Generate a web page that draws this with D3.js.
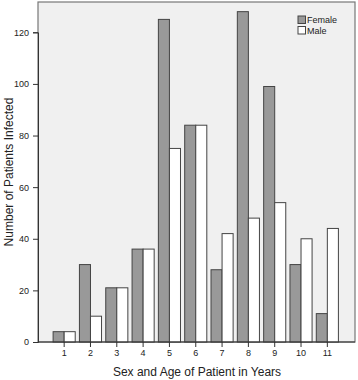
<!DOCTYPE html>
<html>
<head>
<meta charset="utf-8">
<script src="https://cdn.jsdelivr.net/npm/d3@7"></script>
<style>
  body { margin: 0; background: #fff; }
  svg { display: block; font-family: "Liberation Sans", Arial, sans-serif; }
</style>
</head>
<body>
<svg width="358" height="380"></svg>
<script>
(function (d3) {
    'use strict';

    // data
    const ages = ['1', '2', '3', '4', '5', '6', '7', '8', '9', '10', '11'];
    const female = [4, 30, 21, 36, 125, 84, 28, 128, 99, 30, 11];
    const male = [4, 10, 21, 36, 75, 84, 42, 48, 54, 40, 44];
    const sexes = ['Female', 'Male'];
    const yTicks = [0, 20, 40, 60, 80, 100, 120];

    const svg = d3.select('svg');
    const plot = { left: 38, top: 2, right: 355, bottom: 342 };

    const x = d3.scaleBand()
        .domain(ages)
        .range([51, 340.5])
        .paddingInner(0.16)
        .paddingOuter(0.08);
    const xSex = d3.scaleBand()
        .domain(sexes)
        .range([0, x.bandwidth()]);
    const y = d3.scaleLinear()
        .domain([0, 120])
        .range([plot.bottom, 32.3]);

    const fill = d3.scaleOrdinal().domain(sexes).range(['#999999', '#ffffff']);

    // plot background + frame
    svg.append('rect')
        .attr('x', plot.left).attr('y', plot.top)
        .attr('width', plot.right - plot.left)
        .attr('height', plot.bottom - plot.top)
        .attr('fill', '#f0f0f0')
        .attr('stroke', '#777')
        .attr('stroke-width', 1.2);

    const rows = ages.map((a, i) => ({ age: a, Female: female[i], Male: male[i] }));

    const groups = svg.append('g').selectAll('g')
        .data(rows)
        .enter().append('g')
        .attr('transform', d => `translate(${x(d.age)},0)`);

    groups.selectAll('rect')
        .data(d => sexes.map(s => ({ sex: s, value: d[s] })))
        .enter().append('rect')
        .attr('x', d => xSex(d.sex))
        .attr('y', d => y(d.value))
        .attr('width', xSex.bandwidth())
        .attr('height', d => y(0) - y(d.value))
        .attr('fill', d => fill(d.sex))
        .attr('stroke', '#444')
        .attr('stroke-width', 1);

    // axes
    const yAxis = svg.append('g')
        .attr('transform', `translate(${plot.left},0)`)
        .call(d3.axisLeft(y).tickValues(yTicks).tickSize(5).tickPadding(4));
    yAxis.select('.domain').attr('stroke', '#333');
    yAxis.selectAll('line').attr('stroke', '#333');
    yAxis.selectAll('text').attr('font-size', 9).attr('fill', '#222');

    const xAxis = svg.append('g')
        .attr('transform', `translate(0,${plot.bottom})`)
        .call(d3.axisBottom(x).tickSize(5).tickPadding(3).tickSizeOuter(0));
    xAxis.select('.domain')
        .attr('d', `M${plot.left},0H${plot.right}`)
        .attr('stroke', '#333');
    xAxis.selectAll('line').attr('stroke', '#333');
    xAxis.selectAll('text').attr('font-size', 9).attr('fill', '#222');

    // axis titles
    svg.append('text')
        .attr('transform', 'translate(13,172) rotate(-90)')
        .attr('text-anchor', 'middle')
        .attr('font-size', 12)
        .attr('fill', '#222')
        .text('Number of Patients Infected');

    svg.append('text')
        .attr('x', 197).attr('y', 376)
        .attr('text-anchor', 'middle')
        .attr('font-size', 12)
        .attr('fill', '#222')
        .text('Sex and Age of Patient in Years');

    // legend
    const legend = svg.append('g')
        .attr('transform', 'translate(298,16)');
    const items = legend.selectAll('g')
        .data(sexes)
        .enter().append('g')
        .attr('transform', (d, i) => `translate(0,${i * 10.5})`);
    items.append('rect')
        .attr('width', 7.5).attr('height', 7.5)
        .attr('fill', fill)
        .attr('stroke', '#444');
    items.append('text')
        .attr('x', 9).attr('y', 4)
        .attr('dy', '0.35em')
        .attr('font-size', 9)
        .attr('fill', '#222')
        .text(d => d);
}(d3));
</script>
</body>
</html>
